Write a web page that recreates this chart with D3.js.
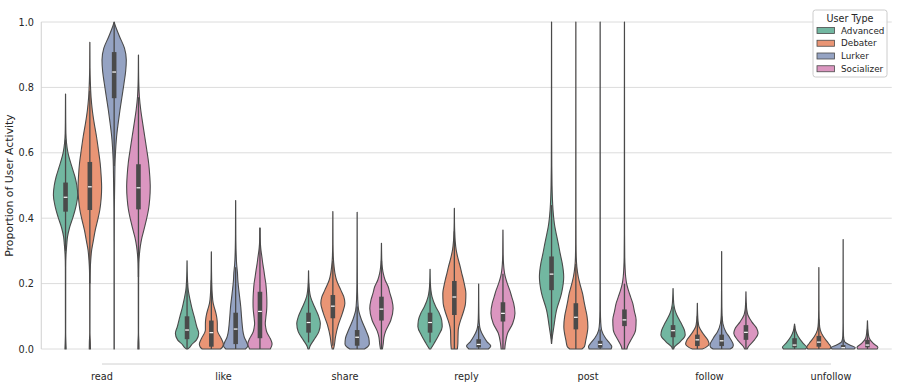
<!DOCTYPE html>
<html>
<head>
<meta charset="utf-8">
<script src="https://cdn.jsdelivr.net/npm/d3@7"></script>
<style>
  body { margin: 0; background: #fff; }
  text { font-family: "DejaVu Sans", sans-serif; fill: #262626; }
</style>
</head>
<body>
<svg id="violin-chart"></svg>
<script>
// chart size
const w = 897;
const h = 387;

// categories
const activities = ["read", "like", "share", "reply", "post", "follow", "unfollow"];
const userTypes = ["Advanced", "Debater", "Lurker", "Socializer"];
const colors = ["#72b7a1", "#e99575", "#95a3c3", "#db96c0"];
const yTicks = [0, 0.2, 0.4, 0.6, 0.8, 1.0];

// violin outlines: [value, relative width (1 = widest)]
// one list per user type, in the order of userTypes
const densityRead = [
  [[0,0.05],[0.02,0.03],[0.05,0.012],[0.25,0.015],[0.29,0.04],[0.32,0.1],[0.343,0.16],[0.37,0.32],[0.404,0.62],[0.44,0.88],[0.471,1.0],[0.5,0.93],[0.526,0.78],[0.56,0.5],[0.6,0.2],[0.63,0.08],[0.66,0.03],[0.7,0.015],[0.78,0.005]],
  [[0,0.05],[0.02,0.04],[0.05,0.012],[0.2,0.015],[0.24,0.03],[0.27,0.07],[0.303,0.15],[0.33,0.28],[0.364,0.45],[0.4,0.68],[0.425,0.82],[0.46,0.93],[0.496,0.97],[0.53,0.93],[0.568,0.85],[0.61,0.7],[0.649,0.55],[0.69,0.36],[0.731,0.2],[0.77,0.1],[0.818,0.04],[0.86,0.015],[0.938,0.005]],
  [[0,0.012],[0.3,0.012],[0.43,0.02],[0.466,0.03],[0.52,0.05],[0.578,0.08],[0.62,0.14],[0.649,0.2],[0.69,0.33],[0.731,0.48],[0.77,0.64],[0.812,0.81],[0.85,0.95],[0.884,1.0],[0.92,0.85],[0.955,0.45],[0.98,0.18],[1.0,0.0]],
  [[0,0.05],[0.02,0.04],[0.05,0.012],[0.22,0.015],[0.262,0.03],[0.29,0.08],[0.313,0.15],[0.34,0.28],[0.364,0.45],[0.39,0.62],[0.425,0.82],[0.46,0.93],[0.496,0.97],[0.53,0.93],[0.568,0.84],[0.61,0.68],[0.649,0.52],[0.69,0.35],[0.731,0.19],[0.77,0.08],[0.81,0.03],[0.85,0.012],[0.899,0.005]]
];
const densityLike = [
  [[0,0.05],[0.004,0.2],[0.012,0.35],[0.028,0.78],[0.048,0.96],[0.068,0.8],[0.099,0.59],[0.125,0.4],[0.15,0.25],[0.18,0.1],[0.21,0.04],[0.24,0.015],[0.27,0.005]],
  [[0,0.75],[0.005,0.9],[0.015,0.99],[0.033,0.8],[0.05,0.55],[0.058,0.49],[0.078,0.49],[0.095,0.45],[0.109,0.38],[0.125,0.26],[0.14,0.15],[0.17,0.07],[0.2,0.035],[0.24,0.015],[0.297,0.005]],
  [[0,0.8],[0.009,1.0],[0.022,0.89],[0.035,0.72],[0.048,0.63],[0.078,0.53],[0.1,0.48],[0.129,0.42],[0.155,0.34],[0.18,0.26],[0.21,0.18],[0.232,0.15],[0.26,0.08],[0.3,0.035],[0.35,0.015],[0.454,0.005]],
  [[0,0.85],[0.015,1.0],[0.032,0.85],[0.045,0.65],[0.052,0.56],[0.065,0.48],[0.078,0.44],[0.095,0.48],[0.119,0.55],[0.14,0.57],[0.16,0.56],[0.18,0.53],[0.201,0.48],[0.22,0.4],[0.241,0.32],[0.262,0.23],[0.282,0.16],[0.3,0.09],[0.32,0.04],[0.34,0.015],[0.371,0.005]]
];
const densityShare = [
  [[0,0.05],[0.007,0.1],[0.028,0.44],[0.053,0.85],[0.078,0.97],[0.099,0.84],[0.129,0.49],[0.16,0.16],[0.18,0.07],[0.2,0.03],[0.239,0.005]],
  [[0,0.05],[0.007,0.1],[0.038,0.22],[0.073,0.44],[0.109,0.78],[0.14,0.99],[0.16,0.9],[0.18,0.66],[0.211,0.3],[0.232,0.17],[0.252,0.1],[0.28,0.04],[0.32,0.015],[0.42,0.005]],
  [[0,0.6],[0.008,0.9],[0.015,1.0],[0.033,0.96],[0.058,0.71],[0.088,0.37],[0.119,0.12],[0.15,0.05],[0.2,0.02],[0.3,0.01],[0.418,0.005]],
  [[0,0.08],[0.017,0.15],[0.035,0.2],[0.053,0.33],[0.088,0.77],[0.124,0.96],[0.15,0.86],[0.17,0.7],[0.191,0.55],[0.211,0.3],[0.231,0.15],[0.25,0.07],[0.27,0.03],[0.323,0.005]]
];
const densityReply = [
  [[0,0.05],[0.017,0.33],[0.042,0.71],[0.068,1.0],[0.088,0.96],[0.11,0.75],[0.129,0.47],[0.16,0.16],[0.18,0.07],[0.2,0.03],[0.244,0.005]],
  [[0,0.25],[0.017,0.29],[0.035,0.3],[0.058,0.32],[0.08,0.45],[0.099,0.62],[0.12,0.8],[0.14,0.92],[0.17,0.95],[0.19,0.87],[0.211,0.75],[0.23,0.62],[0.252,0.48],[0.28,0.28],[0.303,0.15],[0.33,0.07],[0.36,0.03],[0.39,0.012],[0.43,0.005]],
  [[0,0.8],[0.009,1.0],[0.022,0.69],[0.038,0.41],[0.058,0.15],[0.08,0.05],[0.11,0.02],[0.15,0.01],[0.199,0.005]],
  [[0,0.15],[0.017,0.2],[0.048,0.38],[0.078,0.8],[0.109,0.99],[0.14,0.88],[0.16,0.72],[0.18,0.56],[0.2,0.36],[0.221,0.19],[0.24,0.1],[0.26,0.05],[0.29,0.02],[0.364,0.005]]
];
const densityPost = [
  [[0.017,0.01],[0.03,0.04],[0.068,0.19],[0.119,0.41],[0.17,0.82],[0.221,1.0],[0.262,0.88],[0.29,0.72],[0.323,0.55],[0.35,0.4],[0.374,0.27],[0.4,0.18],[0.425,0.12],[0.46,0.07],[0.5,0.04],[0.56,0.02],[0.65,0.012],[1.0,0.005]],
  [[0,0.5],[0.007,0.7],[0.027,0.82],[0.068,0.99],[0.1,0.92],[0.119,0.82],[0.14,0.7],[0.17,0.55],[0.2,0.33],[0.221,0.2],[0.252,0.08],[0.28,0.035],[0.32,0.018],[0.4,0.012],[1.0,0.005]],
  [[0,0.9],[0.007,0.96],[0.017,0.8],[0.033,0.45],[0.058,0.12],[0.08,0.05],[0.12,0.02],[0.2,0.012],[1.0,0.005]],
  [[0,0.2],[0.007,0.25],[0.027,0.52],[0.058,0.92],[0.089,0.96],[0.115,0.82],[0.14,0.68],[0.16,0.5],[0.18,0.32],[0.2,0.18],[0.221,0.1],[0.25,0.05],[0.28,0.025],[0.35,0.012],[1.0,0.005]]
];
const densityFollow = [
  [[0,0.05],[0.005,0.1],[0.022,0.58],[0.043,1.0],[0.058,0.93],[0.075,0.72],[0.089,0.52],[0.105,0.3],[0.119,0.16],[0.135,0.07],[0.155,0.03],[0.185,0.005]],
  [[0,0.4],[0.005,0.7],[0.015,0.97],[0.028,0.85],[0.048,0.45],[0.068,0.14],[0.085,0.06],[0.11,0.02],[0.14,0.005]],
  [[0,0.7],[0.005,0.9],[0.012,0.96],[0.033,0.69],[0.053,0.34],[0.078,0.1],[0.1,0.04],[0.13,0.02],[0.18,0.01],[0.298,0.005]],
  [[0,0.1],[0.007,0.2],[0.028,0.7],[0.048,1.0],[0.063,0.89],[0.083,0.48],[0.104,0.16],[0.12,0.07],[0.14,0.03],[0.175,0.005]]
];
const densityUnfollow = [
  [[0,0.9],[0.005,1.0],[0.017,0.71],[0.038,0.3],[0.055,0.1],[0.076,0.005]],
  [[0,0.9],[0.005,1.0],[0.017,0.8],[0.038,0.37],[0.058,0.12],[0.08,0.04],[0.12,0.015],[0.249,0.005]],
  [[0,0.9],[0.004,1.0],[0.012,0.55],[0.022,0.12],[0.04,0.03],[0.08,0.012],[0.335,0.005]],
  [[0,0.8],[0.005,0.86],[0.017,0.48],[0.033,0.15],[0.05,0.06],[0.086,0.005]]
];

// inner boxes: [whisker low, q1, median, q3, whisker high]
const boxRead     = [[0.3,0.42,0.464,0.509,0.64], [0.2,0.425,0.496,0.572,0.79], [0.56,0.767,0.847,0.908,1.0], [0.22,0.427,0.493,0.565,0.77]];
const boxLike     = [[0,0.03,0.058,0.10,0.2], [0,0.007,0.05,0.087,0.21], [0,0.015,0.061,0.111,0.25], [0,0.033,0.115,0.175,0.37]];
const boxShare    = [[0.02,0.05,0.081,0.111,0.2], [0.01,0.094,0.131,0.165,0.27], [0,0.01,0.036,0.058,0.13], [0,0.087,0.122,0.16,0.27]];
const boxReply    = [[0.02,0.05,0.081,0.111,0.2], [0,0.104,0.159,0.208,0.36], [0,0.005,0.014,0.03,0.07], [0,0.084,0.109,0.143,0.23]];
const boxPost     = [[0.03,0.18,0.229,0.283,0.44], [0,0.06,0.097,0.14,0.26], [0,0.004,0.014,0.025,0.06], [0,0.07,0.089,0.121,0.2]];
const boxFollow   = [[0,0.036,0.056,0.073,0.13], [0,0.009,0.028,0.044,0.1], [0,0.009,0.025,0.044,0.1], [0,0.028,0.051,0.073,0.14]];
const boxUnfollow = [[0,0.005,0.012,0.033,0.07], [0,0.007,0.021,0.04,0.09], [0,0.001,0.004,0.012,0.03], [0,0.005,0.012,0.028,0.06]];

const densities = [densityRead, densityLike, densityShare, densityReply, densityPost, densityFollow, densityUnfollow];
const boxes = [boxRead, boxLike, boxShare, boxReply, boxPost, boxFollow, boxUnfollow];

// =========================
// LAYOUT
// =========================
const margin = { top: 22, right: 5.25, bottom: 38, left: 41.25 };
const plotBottom = h - margin.bottom;
const lineColor = "#4a4a4a";

const svg = d3.select("#violin-chart")
  .attr("width", w)
  .attr("height", h);

const x = d3.scaleBand()
  .domain(activities)
  .range([margin.left, w - margin.right]);

const xHue = d3.scaleBand()
  .domain(userTypes)
  .range([x.bandwidth() * 0.1, x.bandwidth() * 0.9]);

const y = d3.scaleLinear()
  .domain([0, 1])
  .range([plotBottom, margin.top]);

const widthScale = d3.scaleLinear()
  .domain([0, 1])
  .range([0, xHue.bandwidth() / 2]);

// grid
svg.append("g")
  .selectAll("line")
  .data(yTicks)
  .join("line")
  .attr("x1", margin.left)
  .attr("x2", w - margin.right)
  .attr("y1", d => y(d))
  .attr("y2", d => y(d))
  .attr("stroke", "#dcdcdc")
  .attr("stroke-width", 1);

// left spine
svg.append("line")
  .attr("x1", margin.left).attr("x2", margin.left)
  .attr("y1", y(1)).attr("y2", y(0))
  .attr("stroke", "#d0d0d0");

// offset, trimmed bottom spine
svg.append("line")
  .attr("x1", x(activities[0]) + x.bandwidth() / 2)
  .attr("x2", x(activities[activities.length - 1]) + x.bandwidth() / 2)
  .attr("y1", plotBottom + 15)
  .attr("y2", plotBottom + 15)
  .attr("stroke", "#d0d0d0");

// tick labels
svg.append("g")
  .selectAll("text")
  .data(yTicks)
  .join("text")
  .attr("x", 34)
  .attr("y", d => y(d))
  .attr("text-anchor", "end")
  .attr("dominant-baseline", "central")
  .style("font-size", "9.7px")
  .text(d => d.toFixed(1));

svg.append("g")
  .selectAll("text")
  .data(activities)
  .join("text")
  .attr("x", d => x(d) + x.bandwidth() / 2)
  .attr("y", 380)
  .attr("text-anchor", "middle")
  .style("font-size", "9.7px")
  .text(d => d);

svg.append("text")
  .attr("transform", `translate(13, ${(margin.top + plotBottom) / 2}) rotate(-90)`)
  .attr("text-anchor", "middle")
  .style("font-size", "10.9px")
  .text("Proportion of User Activity");

// =========================
// VIOLINS
// =========================
const violins = svg.append("g");
const inner = svg.append("g");

activities.forEach((act, ai) => {
  userTypes.forEach((ut, ui) => {
    const cx = x(act) + xHue(ut) + xHue.bandwidth() / 2;
    const area = d3.area()
      .y(d => y(d[0]))
      .x0(d => cx - widthScale(d[1]))
      .x1(d => cx + widthScale(d[1]))
      .curve(d3.curveMonotoneY);

    violins.append("path")
      .datum(densities[ai][ui])
      .attr("d", area)
      .attr("fill", colors[ui])
      .attr("stroke", lineColor)
      .attr("stroke-width", 1.1)
      .attr("stroke-linejoin", "round");

    const [lo, q1, med, q3, hi] = boxes[ai][ui];
    inner.append("line")
      .attr("x1", cx).attr("x2", cx)
      .attr("y1", y(lo)).attr("y2", y(hi))
      .attr("stroke", lineColor)
      .attr("stroke-width", 1.3);
    inner.append("rect")
      .attr("x", cx - 2.3)
      .attr("width", 4.6)
      .attr("y", y(q3))
      .attr("height", y(q1) - y(q3))
      .attr("fill", lineColor);
    inner.append("line")
      .attr("x1", cx - 1.9).attr("x2", cx + 1.9)
      .attr("y1", y(med)).attr("y2", y(med))
      .attr("stroke", "#ffffff")
      .attr("stroke-width", 1.2);
  });
});

// =========================
// LEGEND
// =========================
const legend = svg.append("g").attr("transform", "translate(813, 10)");
legend.append("rect")
  .attr("width", 74)
  .attr("height", 67)
  .attr("rx", 2.5)
  .attr("fill", "#ffffff")
  .attr("fill-opacity", 0.85)
  .attr("stroke", "#cccccc");
legend.append("text")
  .attr("x", 37)
  .attr("y", 11.5)
  .attr("text-anchor", "middle")
  .style("font-size", "9.6px")
  .text("User Type");

const rows = legend.selectAll(".row")
  .data(userTypes)
  .join("g")
  .attr("class", "row")
  .attr("transform", (d, i) => `translate(0, ${20.5 + i * 12.75})`);
rows.append("rect")
  .attr("x", 4)
  .attr("y", -3)
  .attr("width", 17.5)
  .attr("height", 6)
  .attr("fill", (d, i) => colors[i])
  .attr("stroke", lineColor)
  .attr("stroke-width", 0.8);
rows.append("text")
  .attr("x", 28)
  .attr("y", 0)
  .attr("dominant-baseline", "central")
  .style("font-size", "8.8px")
  .text(d => d);
</script>
</body>
</html>
